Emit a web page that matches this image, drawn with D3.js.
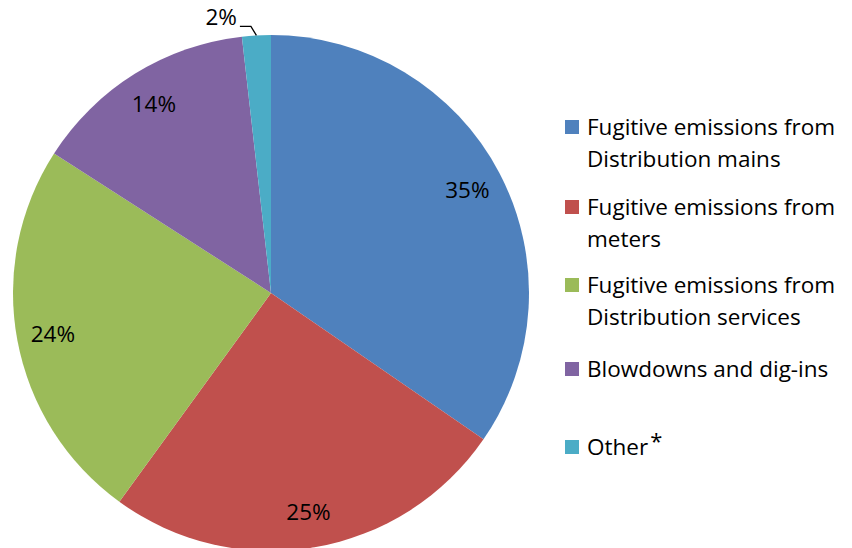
<!DOCTYPE html>
<html>
<head>
<meta charset="utf-8">
<script src="https://cdn.jsdelivr.net/npm/d3@7"></script>
<style>
  body { margin: 0; background: #fff; }
  svg { display: block; }
  text { font-family: "Open Sans", Lato, sans-serif; fill: #000; }
</style>
</head>
<body>
<script>
const categories = [
  ["Fugitive emissions from", "Distribution mains"],
  ["Fugitive emissions from", "meters"],
  ["Fugitive emissions from", "Distribution services"],
  ["Blowdowns and dig-ins"],
  ["Other"]
];
const values = [34.6, 25.4, 24.1, 14.1, 1.8];
const labels = ["35%", "25%", "24%", "14%", "2%"];
const colors = ["#4F81BD", "#C0504D", "#9BBB59", "#8064A2", "#4BACC6"];

const width = 852, height = 548;
const cx = 271, cy = 293, R = 258;
const fontSize = 22.5;

const svg = d3.select("body").append("svg")
  .attr("width", width).attr("height", height);

const pie = d3.pie().sort(null).value(d => d);
const arcs = pie(values);
const arc = d3.arc().innerRadius(0).outerRadius(R);
const labelArc = d3.arc().innerRadius(R * 0.86).outerRadius(R * 0.86);

const g = svg.append("g").attr("transform", `translate(${cx},${cy})`);

g.selectAll("path.slice")
  .data(arcs)
  .enter()
  .append("path")
  .attr("class", "slice")
  .attr("d", arc)
  .attr("fill", (d, i) => colors[i]);

// inside labels for the big slices
g.selectAll("text.pct")
  .data(arcs.filter((d, i) => i < 4))
  .enter()
  .append("text")
  .attr("class", "pct")
  .attr("x", d => labelArc.centroid(d)[0])
  .attr("y", d => labelArc.centroid(d)[1])
  .attr("dy", "0.35em")
  .attr("text-anchor", "middle")
  .style("font-size", fontSize + "px")
  .text((d, i) => labels[i]);

// small slice: label outside with a leader line
const small = arcs[4];
const mid = (small.startAngle + small.endAngle) / 2;
const p0 = [R * Math.sin(mid), -R * Math.cos(mid)];
const p1 = [(R + 9) * Math.sin(mid) - 5, -(R + 9) * Math.cos(mid)];
const p2 = [p1[0] - 11, p1[1]];
g.append("polyline")
  .attr("points", [p0, p1, p2].map(p => p.join(",")).join(" "))
  .attr("fill", "none")
  .attr("stroke", "#000")
  .attr("stroke-width", 1.3);
g.append("text")
  .attr("x", p2[0] - 3)
  .attr("y", p2[1] - 9)
  .attr("dy", "0.35em")
  .attr("text-anchor", "end")
  .style("font-size", fontSize + "px")
  .text(labels[4]);

// legend
const legendTops = [135, 215, 293, 377, 455];
const legend = svg.append("g").attr("id", "legend");
const item = legend.selectAll("g")
  .data(categories)
  .enter()
  .append("g")
  .attr("transform", (d, i) => `translate(565,${legendTops[i]})`);
item.append("rect")
  .attr("x", 0)
  .attr("y", -15)
  .attr("width", 14)
  .attr("height", 14)
  .attr("fill", (d, i) => colors[i]);
item.each(function (d) {
  const t = d3.select(this).append("text")
    .attr("x", 22)
    .attr("y", 0)
    .style("font-size", fontSize + "px");
  d.forEach((line, j) => {
    t.append("tspan").attr("x", 22).attr("dy", j === 0 ? 0 : 32).text(line);
  });
});
// asterisk on "Other"
item.filter((d, i) => i === 4).select("text")
  .append("tspan").attr("dx", 2).attr("dy", -6).style("font-size", "22px").text("*");
</script>
</body>
</html>
